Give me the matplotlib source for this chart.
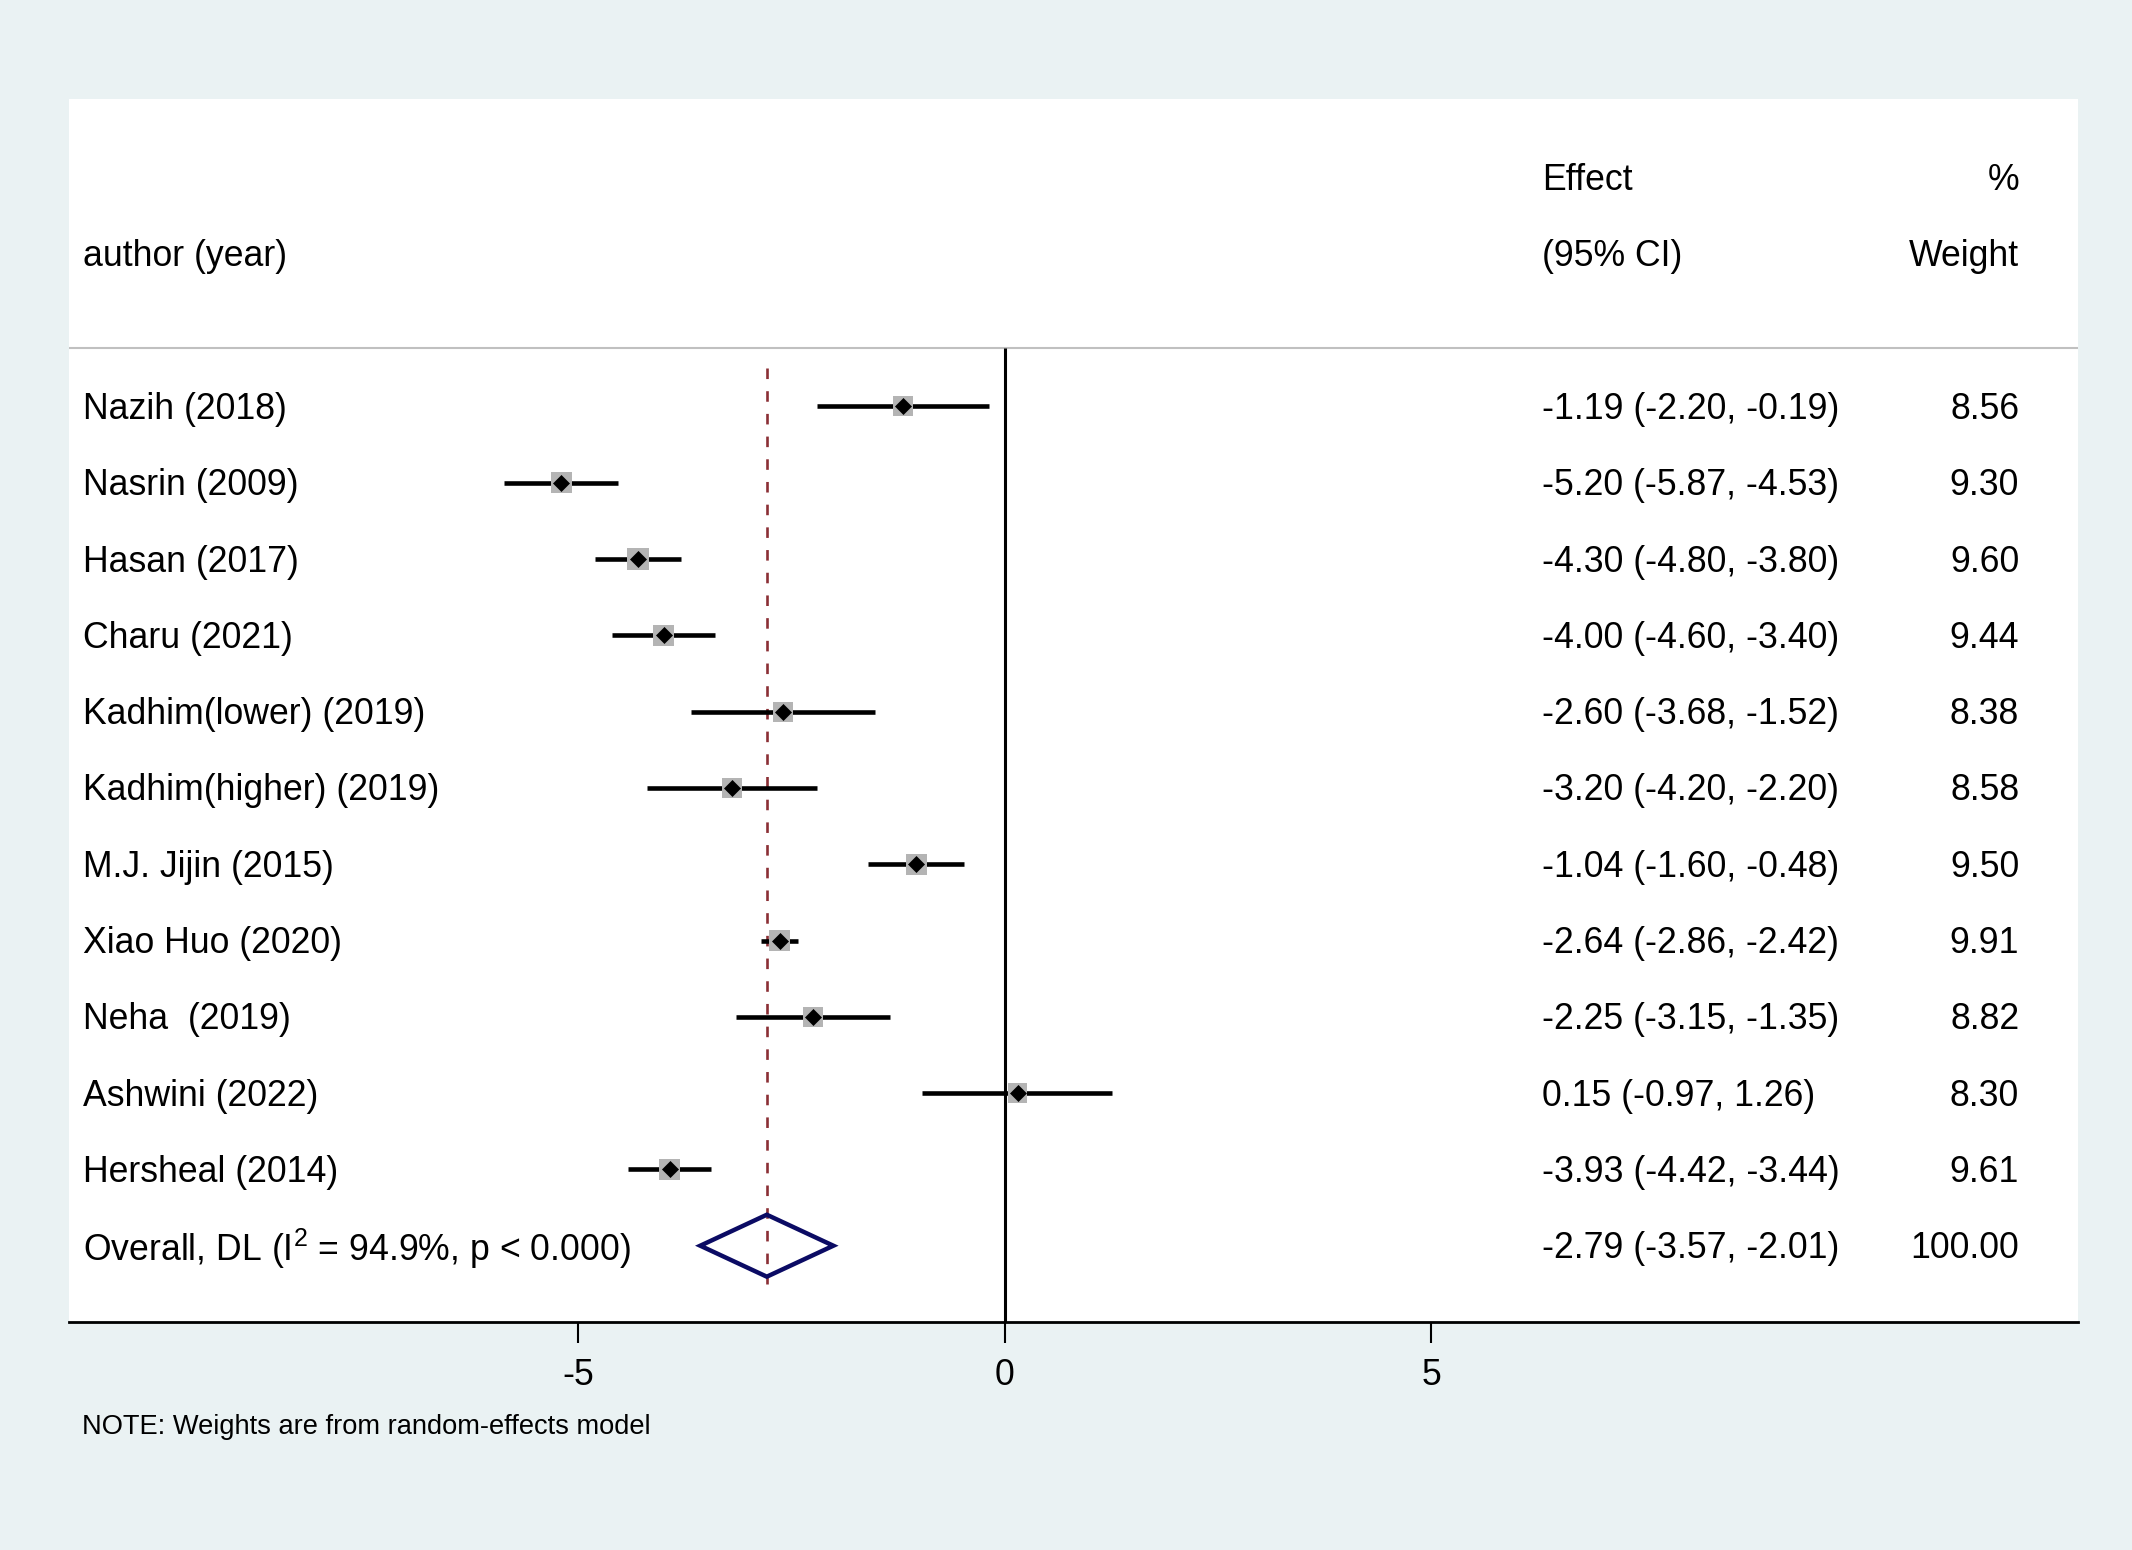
import numpy as np
import matplotlib
matplotlib.use("Agg")
import matplotlib.pyplot as plt

plt.rcParams['font.family'] = ['Liberation Sans', 'DejaVu Sans']
plt.rcParams['mathtext.fontset'] = 'custom'
plt.rcParams['mathtext.rm'] = 'Liberation Sans'
plt.rcParams['mathtext.it'] = 'Liberation Sans:italic'

# study data
studies = ["Nazih (2018)", "Nasrin (2009)", "Hasan (2017)", "Charu (2021)",
           "Kadhim(lower) (2019)", "Kadhim(higher) (2019)", "M.J. Jijin (2015)",
           "Xiao Huo (2020)", "Neha  (2019)", "Ashwini (2022)", "Hersheal (2014)"]
effect = [-1.19, -5.20, -4.30, -4.00, -2.60, -3.20, -1.04, -2.64, -2.25, 0.15, -3.93]
ci_low = [-2.20, -5.87, -4.80, -4.60, -3.68, -4.20, -1.60, -2.86, -3.15, -0.97, -4.42]
ci_high = [-0.19, -4.53, -3.80, -3.40, -1.52, -2.20, -0.48, -2.42, -1.35, 1.26, -3.44]
weight = [8.56, 9.30, 9.60, 9.44, 8.38, 8.58, 9.50, 9.91, 8.82, 8.30, 9.61]

overall_label = r"Overall, DL (I$^{\mathrm{2}}$ = 94.9%, p < 0.000)"
overall_es = -2.79
overall_lo = -3.57
overall_hi = -2.01
overall_w = 100.00

xticks = [-5, 0, 5]

FS = 25.7
bg = '#EAF2F3'
dy = 0.04  # small nudge so text sits on the row like stata does

fig = plt.figure(figsize=(21.32, 15.5), dpi=100, facecolor=bg)
ax = fig.add_axes([69/2132, 228/1550, (2078-69)/2132, (1322-99)/1550])
ax.set_facecolor('white')
ax.set_xlim(-10.97, 12.58)
ax.set_ylim(12.0, -4.03)

rows = np.arange(len(studies))
x_lab = -10.81
x_eff = 6.30
x_wt = 11.89

# header
ax.text(x_lab, -2 + dy, "author (year)", fontsize=FS, va='center', ha='left')
ax.text(x_eff, -3 + dy, "Effect", fontsize=FS, va='center', ha='left')
ax.text(x_eff, -2 + dy, "(95% CI)", fontsize=FS, va='center', ha='left')
ax.text(x_wt, -3 + dy, "%", fontsize=FS, va='center', ha='right')
ax.text(x_wt, -2 + dy, "Weight", fontsize=FS, va='center', ha='right')
ax.axhline(-0.767, color='#c0c0c0', lw=1.5, zorder=1)

# null line and overall line
ax.plot([0, 0], [-0.767, 12.0], color='black', lw=2.2, zorder=2, solid_capstyle='butt')
ax.plot([overall_es, overall_es], [-0.5, 11.5], color='#8B2F35', lw=1.9,
        dashes=(4, 4.6), zorder=2)

# studies
for i, r in enumerate(rows):
    ax.plot([ci_low[i], ci_high[i]], [r, r], color='black', lw=3.3,
            solid_capstyle='butt', zorder=3)
    ax.text(x_lab, r + dy, studies[i], fontsize=FS, va='center', ha='left')
    ax.text(x_eff, r + dy, f"{effect[i]:.2f} ({ci_low[i]:.2f}, {ci_high[i]:.2f})",
            fontsize=FS, va='center', ha='left')
    ax.text(x_wt, r + dy, f"{weight[i]:.2f}", fontsize=FS, va='center', ha='right')

ax.scatter(effect, rows, s=24.2*np.array(weight), marker='s', color='#b4b4b4',
           edgecolors='none', zorder=4)
ax.plot(effect, rows, 'D', color='black', ms=7.8, mew=0.5, zorder=5)

# overall diamond
yo = len(studies)
h = 0.406
ax.fill([overall_lo, overall_es, overall_hi, overall_es, overall_lo],
        [yo, yo - h, yo, yo + h, yo], facecolor='none', edgecolor='#0B0B64',
        lw=3.2, zorder=5, joinstyle='miter')
ax.text(x_lab, yo + dy, overall_label, fontsize=FS, va='center', ha='left')
ax.text(x_eff, yo + dy, f"{overall_es:.2f} ({overall_lo:.2f}, {overall_hi:.2f})",
        fontsize=FS, va='center', ha='left')
ax.text(x_wt, yo + dy, f"{overall_w:.2f}", fontsize=FS, va='center', ha='right')

# axes
for s in ['top', 'left', 'right']:
    ax.spines[s].set_visible(False)
ax.spines['bottom'].set_linewidth(2.0)
ax.set_yticks([])
ax.set_xticks(xticks)
ax.set_xticklabels([str(t) for t in xticks])
ax.tick_params(axis='x', length=15, width=1.5, pad=11, labelsize=FS)

fig.text(82/2132, 0.0794, "NOTE: Weights are from random-effects model",
         fontsize=19.6, va='center', ha='left')

fig.savefig("out.png", dpi=100, facecolor=bg)
